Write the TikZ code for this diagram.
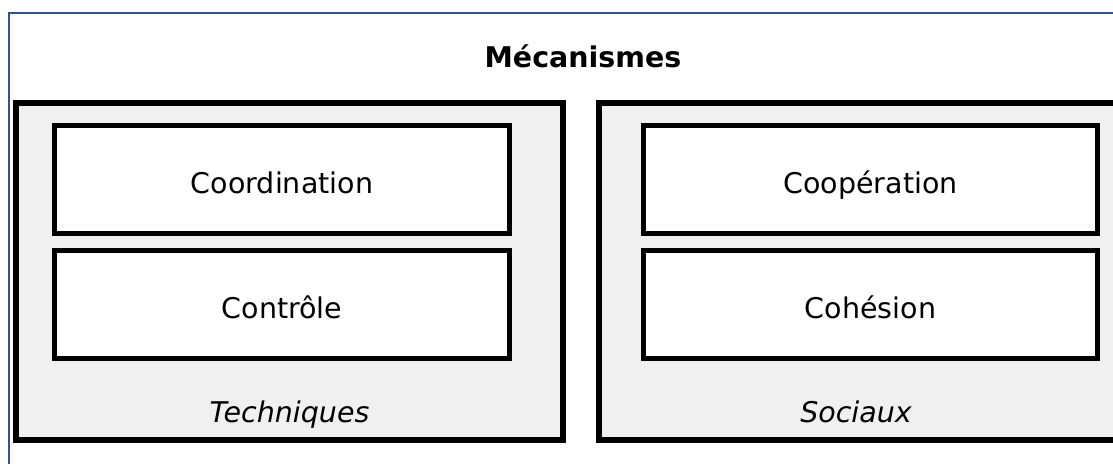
\documentclass[tikz,border=0pt]{standalone}
\usepackage{fontspec}
\setmainfont{DejaVu Sans}
\usepackage{xcolor}
\usepackage{tikz}
\usetikzlibrary{positioning}
\definecolor{frameblue}{RGB}{47,84,150}
\definecolor{groupgray}{RGB}{240,240,240}
\tikzset{
    groupbox/.style={draw=black, fill=groupgray, line width=6pt, minimum width=547pt, minimum height=337pt, inner sep=0pt},
    innerbox/.style={draw=black, fill=white, line width=5pt, minimum width=455pt, minimum height=108pt, inner sep=0pt, text height=30pt, text depth=3pt, font=\fontsize{28.5}{34}\selectfont},
    grouplabel/.style={font=\fontsize{28.5}{34}\selectfont\itshape, inner sep=0pt, anchor=base},
}

\begin{document}
\begin{tikzpicture}[x=1pt, y=-1pt, line width=1pt]
    \useasboundingbox (0, 0) rectangle (1113, 463);
    \clip (0, 0) rectangle (1113, 463);
% outer frame
    % draw outer lines
    \draw[color=frameblue, line width=2pt] (8.5, 13) -- (1170, 13) -- (1170, 480) -- (8.5, 480) -- cycle;
    \node[font=\fontsize{28.5}{34}\selectfont\bfseries, inner sep=0pt, anchor=base] (title) at (583, 67) {Mécanismes};
% technical mechanisms
    % draw group box
    \node[groupbox] (techniques) at (289.5, 271.5) {};
    \node[grouplabel] (techlabel) at (289.5, 422) {Techniques};
    % draw inner boxes
    \node[innerbox] (coordination) at (282, 179.5) {Coordination};
    \node[innerbox] (controle) at (282, 304.5) {Contrôle};
% social mechanisms
    % draw group box
    \node[groupbox, minimum width=517pt] (sociaux) at (857.5, 271.5) {};
    \node[grouplabel] (soclabel) at (856, 422) {Sociaux};
    % draw inner boxes
    \node[innerbox, minimum width=454pt] (cooperation) at (870.5, 179.5) {Coopération};
    \node[innerbox, minimum width=454pt] (cohesion) at (870.5, 304.5) {Cohésion};
\end{tikzpicture}
\end{document}
